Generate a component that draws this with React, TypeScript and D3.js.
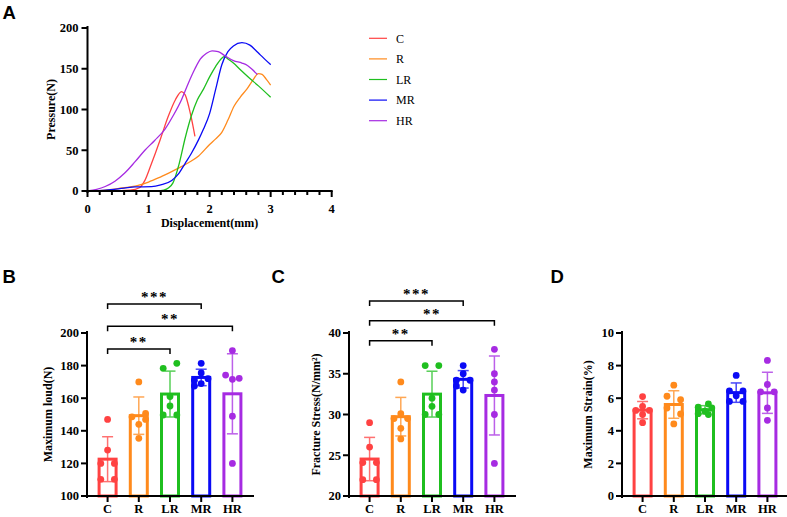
import React from 'react';
import * as d3 from 'd3';

type Pt = [number, number];

const groups = ['C', 'R', 'LR', 'MR', 'HR'];
const colors = ['#FF4242', '#FF8A1C', '#1FBF1F', '#0A0AF5', '#A62BE2'];

// load–displacement curves, [mm, N]
const curveC: Pt[] = [
  [0, 0], [0.4, 0], [0.7, 1], [0.85, 4], [0.94, 13], [1.03, 30], [1.11, 46], [1.2, 65],
  [1.32, 91], [1.44, 112], [1.54, 122], [1.6, 118], [1.66, 103], [1.7, 90], [1.76, 67],
];
const curveR: Pt[] = [
  [0, 0], [0.2, 0.5], [0.5, 3], [0.83, 7], [1.0, 11], [1.16, 16], [1.33, 22], [1.49, 28],
  [1.66, 35], [1.82, 43], [2.0, 57], [2.1, 64], [2.2, 72], [2.3, 87], [2.4, 104], [2.5, 115],
  [2.61, 125], [2.7, 135], [2.8, 144], [2.86, 143], [2.93, 137], [3.0, 130],
];
const curveLR: Pt[] = [
  [0, 0], [0.8, 0], [1.15, 0], [1.25, 1], [1.33, 4], [1.4, 10], [1.5, 33], [1.6, 65],
  [1.7, 92], [1.8, 112], [1.9, 125], [2.0, 140], [2.1, 153], [2.2, 163], [2.24, 165],
  [2.3, 162], [2.39, 157], [2.5, 149], [2.66, 138], [2.8, 129], [3.0, 115],
];
const curveMR: Pt[] = [
  [0, 0], [0.3, 1], [0.6, 3.5], [0.78, 5], [1.05, 5.3], [1.2, 7.5], [1.38, 13], [1.5, 22],
  [1.6, 34], [1.7, 46], [1.82, 63], [1.9, 76], [2.0, 95], [2.1, 125], [2.2, 155], [2.3, 171],
  [2.39, 178], [2.53, 182], [2.66, 179], [2.75, 173], [2.83, 167], [3.0, 155],
];
const curveHR: Pt[] = [
  [0, 0], [0.15, 2], [0.29, 5.5], [0.45, 12], [0.61, 22], [0.78, 36], [0.94, 50], [1.1, 62],
  [1.27, 76], [1.4, 92], [1.54, 112], [1.65, 132], [1.76, 150], [1.85, 162], [1.95, 169],
  [2.04, 172], [2.14, 171], [2.25, 166], [2.39, 160], [2.53, 157], [2.62, 154], [2.7, 149],
  [2.78, 143],
];
const curves = [curveC, curveR, curveLR, curveMR, curveHR];

const dispTicks = [0, 1, 2, 3, 4];
const pressureTicks = [0, 50, 100, 150, 200];

// per-specimen results, one row per group
const loadValues = [
  [147, 128.2, 120, 120, 110.2, 110.2],
  [170, 150.7, 148.6, 147, 144, 135.4],
  [178.3, 181.4, 161, 155.2, 149.7, 149.7],
  [181.4, 175.5, 171, 172, 169, 167.5],
  [189.2, 174.2, 171.6, 172.2, 149, 120],
];
const stressValues = [
  [29, 26, 24.1, 24.1, 22, 22],
  [34, 30.1, 29.5, 29.5, 28.3, 27],
  [36, 36, 32, 31, 30, 30],
  [36, 35, 34.2, 34.2, 33.5, 33],
  [38, 35, 34, 33, 30, 24],
];
const strainValues = [
  [6.1, 5.5, 5.25, 5.25, 5.0, 4.5],
  [6.8, 6.12, 5.91, 5.4, 5.03, 4.42],
  [5.65, 5.45, 5.4, 5.2, 5.05, 5.0],
  [7.4, 6.45, 6.45, 6.15, 5.8, 5.8],
  [8.32, 6.84, 6.39, 6.39, 5.4, 4.64],
];

// sideways offset of each dot, in dot widths
const loadSpread = [
  [0, 0, -1, 1, -1, 1],
  [0, 1, -1, 1, 0, 0],
  [-1, 1, 0, 0, -1, 1],
  [0, 0, -1, 1, 0, -1],
  [0, -1, 0, 1, 0, 0],
];
const stressSpread = [
  [0, 0, -1, 1, -1, 1],
  [0, 0, -1, 1, 0, 0],
  [-1, 1, 0, 0, -1, 1],
  [0, 0, -1, 1, -1, 0],
  [0, 0, 0, 0, 0, 0],
];
const strainSpread = [
  [0, 0, -1, 1, 0, 0],
  [0, -1, 1, -1, 1, 0],
  [0.5, -1, 1, 0, -1, 0.5],
  [0, -1, 1, 0, -1, 1],
  [0, 0, -1, 1, 0, 0],
];

const loadTicks = [100, 120, 140, 160, 180, 200];
const stressTicks = [20, 25, 30, 35, 40];
const strainTicks = [0, 2, 4, 6, 8, 10];

// significance vs. control: [from, to, label]
const sigPairs: [number, number, string][] = [
  [0, 3, '***'],
  [0, 4, '**'],
  [0, 2, '**'],
];

const serif = '"Liberation Serif", "Times New Roman", serif';
const sans = '"Liberation Sans", Arial, sans-serif';

function Letter({ x, y, children }: { x: number; y: number; children: string }) {
  return (
    <text x={x} y={y} fontFamily={sans} fontWeight="bold" fontSize={18.5} fill="#000">
      {children}
    </text>
  );
}

function CurvePanel() {
  const x = d3.scaleLinear().domain([0, 4]).range([87.5, 331.7]);
  const y = d3.scaleLinear().domain([0, 200]).range([191, 28]);
  const line = d3
    .line<Pt>()
    .x(d => x(d[0]))
    .y(d => y(d[1]))
    .curve(d3.curveMonotoneX);
  const minor = d3.range(0, 4.001, 0.2);

  return (
    <g>
      <Letter x={2.5} y={18.5}>A</Letter>
      {curves.map((c, i) => (
        <path key={groups[i]} d={line(c) || ''} fill="none" stroke={colors[i]} strokeWidth={1.3} />
      ))}
      {/* axes */}
      <g stroke="#000" strokeWidth={2}>
        <line x1={x(0)} x2={x(0)} y1={y(200) - 1} y2={y(0) + 1} strokeLinecap="square" />
        <line x1={x(0)} x2={x(4)} y1={y(0)} y2={y(0)} strokeLinecap="square" />
        {pressureTicks.map(t => (
          <line key={t} x1={x(0) - 6} x2={x(0)} y1={y(t)} y2={y(t)} />
        ))}
        {minor.map((t, i) => (
          <line key={i} x1={x(t)} x2={x(t)} y1={y(0)} y2={y(0) + (i % 5 === 0 ? 6 : 4)} />
        ))}
      </g>
      <g fontFamily={serif} fontWeight="bold" fontSize={12.5}>
        {pressureTicks.map(t => (
          <text key={t} x={x(0) - 9} y={y(t)} dy="0.35em" textAnchor="end">{t}</text>
        ))}
        {dispTicks.map(t => (
          <text key={t} x={x(t)} y={213} textAnchor="middle">{t}</text>
        ))}
        <text x={(x(0) + x(4)) / 2} y={227} textAnchor="middle" fontSize={12}>Displacement(mm)</text>
        <text transform={`translate(55,${(y(0) + y(200)) / 2}) rotate(-90)`} textAnchor="middle" fontSize={12}>
          Pressure(N)
        </text>
      </g>
      {/* legend */}
      {groups.map((g, i) => (
        <g key={g} transform={`translate(369,${38.3 + i * 20.6})`}>
          <line x1={0} x2={18} y1={0} y2={0} stroke={colors[i]} strokeWidth={1.2} />
          <text x={27} y={0} dy="0.35em" fontFamily={serif} fontSize={12}>{g}</text>
        </g>
      ))}
    </g>
  );
}

interface BarProps {
  x0: number;
  letter: string;
  letterX: number;
  title: string;
  titleX: number;
  values: number[][];
  spread: number[][];
  domain: [number, number];
  ticks: number[];
  bracketY?: number[];
}

function BarPanel({ x0, letter, letterX, title, titleX, values, spread, domain, ticks, bracketY }: BarProps) {
  const x = d3.scalePoint<string>().domain(groups).range([x0, x0 + 166]).padding(0.66);
  const y = d3.scaleLinear().domain(domain).range([496, 333]);
  const barW = 17;
  const dotR = 3.4;
  const step = 6.8;

  return (
    <g>
      <Letter x={letterX} y={282.7}>{letter}</Letter>
      {groups.map((g, i) => {
        const vals = values[i];
        const mean = d3.mean(vals) as number;
        const sd = d3.deviation(vals) as number;
        const cx = x(g) as number;
        return (
          <g key={g}>
            <rect
              x={cx - barW / 2}
              y={y(mean)}
              width={barW}
              height={y(domain[0]) - y(mean)}
              fill="#fff"
              stroke={colors[i]}
              strokeWidth={3}
            />
            <g stroke={colors[i]} strokeWidth={1.5} opacity={0.75}>
              <line x1={cx} x2={cx} y1={y(mean + sd)} y2={y(mean - sd)} />
              <line x1={cx - 5.5} x2={cx + 5.5} y1={y(mean + sd)} y2={y(mean + sd)} />
              <line x1={cx - 5.5} x2={cx + 5.5} y1={y(mean - sd)} y2={y(mean - sd)} />
            </g>
            {vals.map((v, j) => (
              <circle key={j} cx={cx + spread[i][j] * step} cy={y(v)} r={dotR} fill={colors[i]} />
            ))}
          </g>
        );
      })}
      {/* axes */}
      <g stroke="#000" strokeWidth={2}>
        <line x1={x0} x2={x0} y1={333 - 1} y2={497} strokeLinecap="square" />
        <line x1={x0} x2={x0 + 166} y1={496} y2={496} strokeLinecap="square" />
        {ticks.map(t => (
          <line key={t} x1={x0 - 6} x2={x0} y1={y(t)} y2={y(t)} />
        ))}
        {groups.map(g => (
          <line key={g} x1={x(g)} x2={x(g)} y1={496} y2={502} />
        ))}
      </g>
      <g fontFamily={serif} fontWeight="bold" fontSize={12.5}>
        {ticks.map(t => (
          <text key={t} x={x0 - 8} y={y(t)} dy="0.35em" textAnchor="end">{t}</text>
        ))}
        {groups.map(g => (
          <text key={g} x={x(g)} y={513} textAnchor="middle">{g}</text>
        ))}
        <text transform={`translate(${titleX},414.5) rotate(-90)`} textAnchor="middle" fontSize={12}>
          {title}
        </text>
      </g>
      {bracketY &&
        sigPairs.map(([a, b, label], k) => {
          const xa = x(groups[a]) as number;
          const xb = x(groups[b]) as number;
          const by = bracketY[k];
          return (
            <g key={k}>
              <path
                d={`M${xa},${by + 5}V${by}H${xb}V${by + 5}`}
                fill="none"
                stroke="#000"
                strokeWidth={1.5}
              />
              <text
                x={(xa + xb) / 2}
                y={by - 2}
                textAnchor="middle"
                fontFamily={serif}
                fontWeight="bold"
                fontSize={15}
                letterSpacing={1.5}
              >
                {label}
              </text>
            </g>
          );
        })}
    </g>
  );
}

export default function App() {
  return (
    <svg
      width={787}
      height={517}
      viewBox="0 0 787 517"
      style={{ position: 'absolute', left: 0, top: 0, background: '#fff' }}
    >
      <CurvePanel />
      <BarPanel
        x0={87}
        letter="B"
        letterX={2.5}
        title="Maximum loud(N)"
        titleX={52}
        values={loadValues}
        spread={loadSpread}
        domain={[100, 200]}
        ticks={loadTicks}
        bracketY={[304, 326.3, 349]}
      />
      <BarPanel
        x0={349}
        letter="C"
        letterX={271.5}
        title="Fracture Stress(N/mm²)"
        titleX={320}
        values={stressValues}
        spread={stressSpread}
        domain={[20, 40]}
        ticks={stressTicks}
        bracketY={[301, 320.7, 340.7]}
      />
      <BarPanel
        x0={622}
        letter="D"
        letterX={550.5}
        title="Maximum Strain(%)"
        titleX={592}
        values={strainValues}
        spread={strainSpread}
        domain={[0, 10]}
        ticks={strainTicks}
      />
    </svg>
  );
}
